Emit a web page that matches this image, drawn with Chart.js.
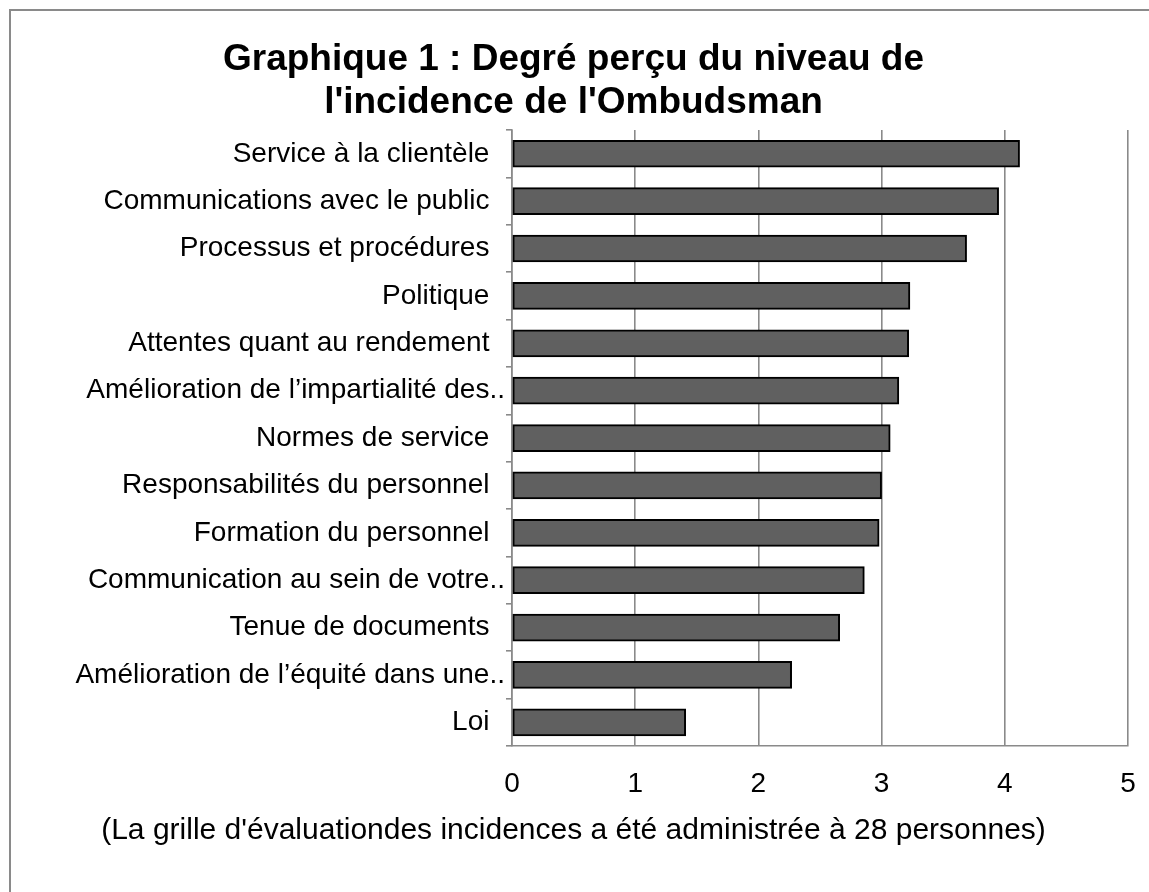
<!DOCTYPE html>
<html>
<head>
<meta charset="utf-8">
<script src="https://cdn.jsdelivr.net/npm/chart.js@4/dist/chart.umd.min.js"></script>
<style>
  html, body { margin: 0; padding: 0; background: #ffffff; }
  #wrap { width: 1149px; height: 892px; position: relative; }
</style>
</head>
<body>
<div id="wrap"><canvas id="c" width="1149" height="892"></canvas></div>
<script>
const categories = [
  "Service à la clientèle",
  "Communications avec le public",
  "Processus et procédures",
  "Politique",
  "Attentes quant au rendement",
  "Amélioration de l’impartialité des..",
  "Normes de service",
  "Responsabilités du personnel",
  "Formation du personnel",
  "Communication au sein de votre..",
  "Tenue de documents",
  "Amélioration de l’équité dans une..",
  "Loi"
];
const values = [4.12, 3.95, 3.69, 3.23, 3.22, 3.14, 3.07, 3.00, 2.98, 2.86, 2.66, 2.27, 1.41];
const xTicks = [0, 1, 2, 3, 4, 5];
const titleLines = ["Graphique 1 : Degré perçu du niveau de", "l'incidence de l'Ombudsman"];
const noteText = "(La grille d'évaluationdes incidences a été administrée à 28 personnes)";

const FONT = "'Liberation Sans', Arial, sans-serif";

const frame = {
  id: 'frame',
  beforeDraw(chart) {
    const ctx = chart.ctx;
    ctx.save();
    ctx.fillStyle = '#ffffff';
    ctx.fillRect(0, 0, chart.width, chart.height);
    ctx.strokeStyle = '#8a8a8a';
    ctx.lineWidth = 2;
    ctx.beginPath();
    ctx.moveTo(10, chart.height + 2);
    ctx.lineTo(10, 10);
    ctx.lineTo(chart.width + 2, 10);
    ctx.stroke();
    ctx.restore();
  }
};

new Chart(document.getElementById('c'), {
  type: 'bar',
  data: {
    labels: categories,
    datasets: [{
      data: values,
      backgroundColor: '#606060',
      borderColor: '#000000',
      borderWidth: 2,
      borderSkipped: false,
      barThickness: 27
    }]
  },
  options: {
    indexAxis: 'y',
    responsive: false,
    animation: false,
    devicePixelRatio: 1,
    layout: { padding: { left: 0, right: 2, top: 0, bottom: 0 } },
    plugins: {
      legend: { display: false },
      tooltip: { enabled: false },
      title: {
        display: true,
        text: titleLines,
        color: '#000000',
        font: { family: FONT, size: 37, weight: 'bold', lineHeight: 1.15 },
        padding: { top: 39, bottom: 6 }
      },
      subtitle: {
        display: true,
        position: 'bottom',
        text: noteText,
        color: '#000000',
        font: { family: FONT, size: 30, weight: 'normal', lineHeight: 1.2 },
        padding: { top: 11, bottom: 43 }
      }
    },
    scales: {
      x: {
        type: 'linear',
        min: 0,
        max: 5,
        afterBuildTicks(scale) { scale.ticks = xTicks.map(v => ({ value: v })); },
        afterFit(scale) { scale.height = 56; scale.paddingRight = 21; },
        ticks: {
          color: '#000000',
          font: { family: FONT, size: 28 },
          padding: 21,
          maxRotation: 0
        },
        grid: { color: '#8a8a8a', lineWidth: 1.6, drawTicks: false },
        border: { display: true, color: '#8a8a8a', width: 1.6 }
      },
      y: {
        type: 'category',
        afterFit(scale) { scale.width = 512; },
        ticks: {
          color: '#000000',
          font: { family: FONT, size: 28 },
          padding: 1,
          autoSkip: false,
          callback(value, index) {
            const l = categories[index];
            return l.endsWith('..') ? l : l + '  ';
          }
        },
        grid: { offset: true, drawOnChartArea: false, drawTicks: true, tickLength: 6, color: '#8a8a8a', lineWidth: 1.6 },
        border: { display: true, color: '#8a8a8a', width: 1.6 }
      }
    }
  },
  plugins: [frame]
});
</script>
</body>
</html>
